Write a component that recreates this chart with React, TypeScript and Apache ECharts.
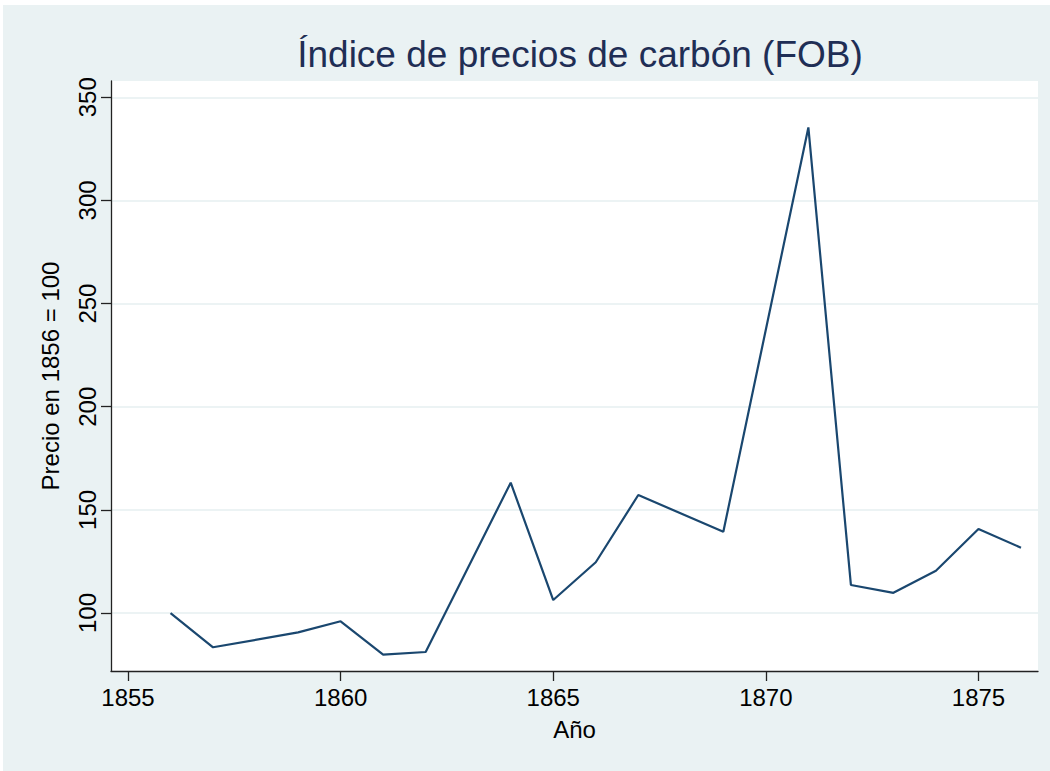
import React, { useEffect, useRef } from "react";
import * as echarts from "echarts";

const years = [1856, 1857, 1859, 1860, 1861, 1862, 1864, 1865, 1866, 1867, 1869, 1871, 1872, 1873, 1874, 1875, 1876];
const prices = [100, 83.4, 90.6, 96.0, 79.8, 81.1, 163.2, 106.3, 124.6, 157.2, 139.4, 335.4, 113.6, 109.8, 120.5, 140.7, 131.7];
const xTicks = [1855, 1860, 1865, 1870, 1875];
const yTicks = [100, 150, 200, 250, 300, 350];

const titleText = "Índice de precios de carbón (FOB)";
const xName = "Año";
const yName = "Precio en 1856 = 100";

export default function App() {
  const ref = useRef<HTMLDivElement>(null);
  useEffect(() => {
    if (!ref.current) return;
    const chart = echarts.init(ref.current, undefined, { renderer: "svg" });
    const font = "'Liberation Sans', Arial, Helvetica, sans-serif";
    chart.setOption({
      animation: false,
      backgroundColor: "#ffffff",
      graphic: [
        {
          type: "rect",
          z: -10,
          silent: true,
          shape: { x: 3, y: 5, width: 1047, height: 766 },
          style: { fill: "#eaf2f3" },
        },
      ],
      title: {
        text: titleText,
        left: 575,
        textAlign: "center",
        top: 31,
        textStyle: { fontFamily: font, fontSize: 37, fontWeight: "normal", color: "#1f2e55" },
      },
      grid: {
        left: 111,
        top: 81,
        right: 12,
        bottom: 100,
        show: true,
        backgroundColor: "#ffffff",
        borderWidth: 0,
        containLabel: false,
      },
      xAxis: {
        type: "value",
        min: 1854.6,
        max: 1876.4,
        name: xName,
        nameLocation: "middle",
        nameGap: 46,
        nameTextStyle: { fontFamily: font, fontSize: 24, color: "#000" },
        axisLine: { show: true, lineStyle: { color: "#222", width: 1.3 } },
        axisTick: { show: true, length: 10, customValues: xTicks, lineStyle: { color: "#222", width: 1.3 } },
        axisLabel: {
          customValues: xTicks,
          formatter: (v: number) => String(v),
          margin: 14,
          fontFamily: font,
          fontSize: 24,
          color: "#000",
        },
        splitLine: { show: false },
      },
      yAxis: {
        type: "value",
        min: 71.9,
        max: 357.9,
        name: yName,
        nameLocation: "middle",
        nameGap: 49,
        nameRotate: 90,
        nameTextStyle: { fontFamily: font, fontSize: 24, color: "#000" },
        axisLine: { show: true, lineStyle: { color: "#222", width: 1.3 } },
        axisTick: { show: true, length: 10, customValues: yTicks, lineStyle: { color: "#222", width: 1.3 } },
        axisLabel: {
          customValues: yTicks,
          formatter: (v: number) => String(v),
          rotate: 90,
          margin: 12,
          fontFamily: font,
          fontSize: 24,
          color: "#000",
        },
        splitLine: { show: true, lineStyle: { color: "#e6eff1", width: 1.6 } },
      },
      series: [
        {
          type: "line",
          data: years.map((y, i) => [y, prices[i]]),
          showSymbol: false,
          symbol: "none",
          lineStyle: { color: "#1a476f", width: 2.2 },
        },
      ],
    });
    return () => chart.dispose();
  }, []);
  return <div ref={ref} style={{ position: "absolute", left: 0, top: 0, width: 1050, height: 771 }} />;
}
